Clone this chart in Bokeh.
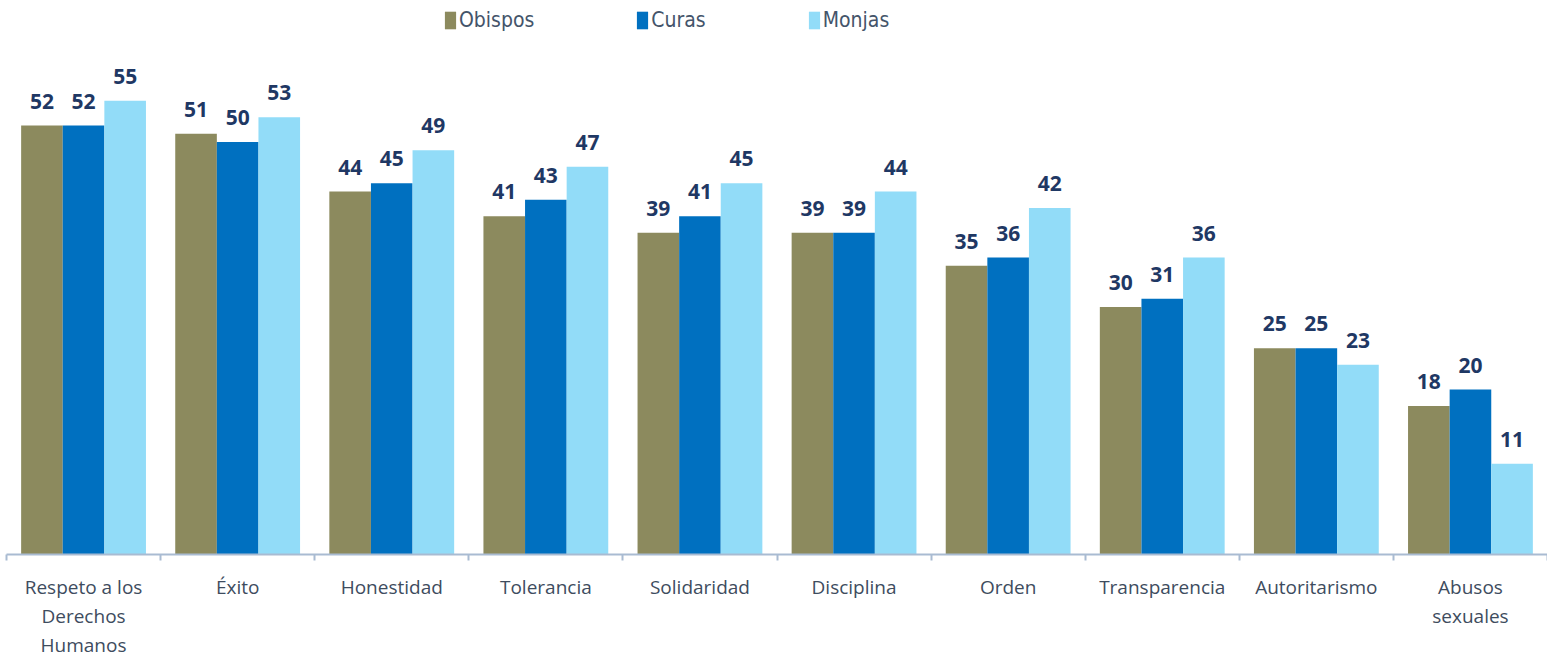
from bokeh.plotting import figure
from bokeh.models import (ColumnDataSource, Range1d, LinearAxis, FixedTicker, LabelSet, Legend, LegendItem)
from bokeh.core.properties import value
from bokeh.transform import dodge
from bokeh.embed import file_html
from bokeh.resources import INLINE

categories = ["Respeto a los\nDerechos\nHumanos", "Éxito", "Honestidad", "Tolerancia", "Solidaridad",
              "Disciplina", "Orden", "Transparencia", "Autoritarismo", "Abusos\nsexuales"]
series = ["Obispos", "Curas", "Monjas"]
obispos = [52, 51, 44, 41, 39, 39, 35, 30, 25, 18]
curas = [52, 50, 45, 43, 41, 39, 36, 31, 25, 20]
monjas = [55, 53, 49, 47, 45, 44, 42, 36, 23, 11]
colors = ["#8C8A5E", "#0070C0", "#92DCF8"]

n = len(categories)
centers = [i + 0.5 for i in range(n)]
src = ColumnDataSource(dict(xc=centers, Obispos=obispos, Curas=curas, Monjas=monjas,
                            lo=[str(v) for v in obispos], lc=[str(v) for v in curas],
                            lm=[str(v) for v in monjas]))

p = figure(x_range=Range1d(0, n), y_range=Range1d(0, 66.2),
           frame_width=1541, frame_height=546, output_backend="svg", toolbar_location=None,
           x_axis_location=None, y_axis_location=None, min_border_left=6, min_border_right=0,
           min_border_top=8, min_border_bottom=0)
p.outline_line_color = None
p.xgrid.visible = False
p.ygrid.visible = False
p.background_fill_color = "white"
p.border_fill_color = "white"

tick_axis = LinearAxis(ticker=FixedTicker(ticks=list(range(n + 1))),
                       major_tick_in=0, major_tick_out=6, minor_tick_line_color=None,
                       major_tick_line_color="#A9BBD2", major_tick_line_width=2,
                       axis_line_color="#A9BBD2", axis_line_width=2,
                       major_label_text_font_size="0px", major_label_standoff=0,
                       major_label_overrides={i: "" for i in range(n + 1)})
p.add_layout(tick_axis, "below")
label_axis = LinearAxis(ticker=FixedTicker(ticks=centers), axis_line_color=None,
                        major_tick_line_color=None, minor_tick_line_color=None,
                        major_label_overrides={c: name for c, name in zip(centers, categories)},
                        major_label_text_font="Open Sans", major_label_text_font_size="19px",
                        major_label_text_color="#3E4C5E", major_label_standoff=7,
                        major_label_text_line_height=1.12)
p.add_layout(label_axis, "below")

offsets = [-0.27, 0.0, 0.27]
label_cols = ["lo", "lc", "lm"]
items = []
for s, off, c, lc in zip(series, offsets, colors, label_cols):
    r = p.vbar(x=dodge("xc", off), top=s, width=0.27, bottom=0, source=src,
               fill_color=c, line_color=None)
    items.append(LegendItem(label=s, renderers=[r]))
    lab = LabelSet(x=dodge("xc", off), y=s, text=lc, source=src,
                   text_align="center", text_baseline="alphabetic", y_offset=17,
                   text_font=value("Open Sans"), text_font_style="bold", text_font_size="21px",
                   text_color="#1F3864")
    p.add_layout(lab)

legend = Legend(items=items, orientation="horizontal", location=(437, 522),
                glyph_width=14, glyph_height=22, label_standoff=2, spacing=101,
                label_text_font="'DejaVu Sans Condensed', 'Liberation Sans Narrow', Lato",
                label_text_font_size="21px",
                label_text_color="#44546A", border_line_color=None, background_fill_alpha=0,
                padding=0, margin=0)
p.add_layout(legend, "center")

open("out.html", "w").write(file_html(p, INLINE))
